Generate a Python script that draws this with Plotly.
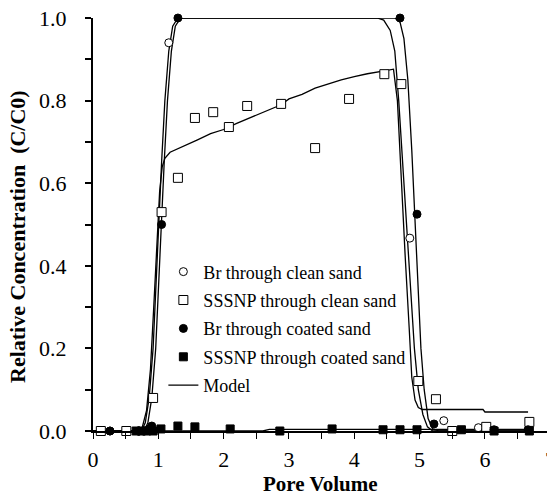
import plotly.graph_objects as go

# ---- measured breakthrough data (pore volume, C/C0) ----
br_clean_x = [0.26, 0.70, 1.16, 4.85, 5.37, 5.90]
br_clean_y = [0.0, 0.0, 0.94, 0.467, 0.025, 0.008]

sssnp_clean_x = [0.12, 0.51, 0.92, 1.05, 1.30, 1.56, 1.84, 2.08, 2.36, 2.88, 3.40,
                 3.92, 4.46, 4.72, 4.98, 5.25, 5.50, 6.02, 6.68]
sssnp_clean_y = [0.0, 0.0, 0.08, 0.53, 0.613, 0.758, 0.772, 0.736, 0.787, 0.792, 0.685,
                 0.804, 0.864, 0.84, 0.121, 0.077, 0.0, 0.01, 0.022]

br_coated_x = [0.26, 0.70, 0.78, 0.86, 0.90, 1.05, 1.30, 4.70, 4.96, 5.22, 6.14, 6.66]
br_coated_y = [0.0, 0.0, 0.0, 0.005, 0.012, 0.50, 1.0, 1.0, 0.525, 0.017, 0.003, 0.003]

sssnp_coated_x = [0.66, 0.74, 0.82, 0.92, 1.04, 1.30, 1.56, 2.10, 2.86, 3.66, 4.44,
                  4.70, 4.96, 5.64, 6.14, 6.68]
sssnp_coated_y = [0.0, 0.0, 0.0, 0.0, 0.005, 0.012, 0.01, 0.005, 0.0, 0.005, 0.003,
                  0.003, 0.003, 0.003, 0.0, 0.0]

# ---- model curves ----
m_br_clean_x = [0.0, 0.74, 0.80, 0.86, 0.92, 0.96, 1.00, 1.05, 1.10, 1.16, 1.22, 1.30,
                4.35, 4.45, 4.55, 4.62, 4.68, 4.74, 4.80, 4.86, 4.92, 4.98, 5.05, 5.12,
                5.20, 6.70]
m_br_clean_y = [0.0, 0.0, 0.02, 0.08, 0.20, 0.35, 0.50, 0.65, 0.80, 0.92, 0.98, 1.0,
                1.0, 0.995, 0.97, 0.92, 0.80, 0.65, 0.50, 0.35, 0.20, 0.10, 0.04, 0.01,
                0.0, 0.0]

m_br_coated_x = [0.0, 0.78, 0.84, 0.90, 0.96, 1.00, 1.04, 1.09, 1.14, 1.20, 1.26, 1.34,
                 4.62, 4.70, 4.76, 4.82, 4.88, 4.93, 4.98, 5.02, 5.07, 5.13, 5.20, 5.30,
                 6.70]
m_br_coated_y = [0.0, 0.0, 0.02, 0.08, 0.20, 0.35, 0.50, 0.65, 0.80, 0.92, 0.98, 1.0,
                 1.0, 0.99, 0.95, 0.85, 0.68, 0.52, 0.35, 0.20, 0.10, 0.03, 0.005, 0.0,
                 0.0]

m_sssnp_clean_x = [0.0, 0.74, 0.82, 0.88, 0.93, 0.98, 1.02, 1.06, 1.10, 1.18, 1.40, 1.60,
                   1.80, 2.00, 2.20, 2.40, 2.60, 2.88, 3.00, 3.20, 3.40, 3.60, 3.80, 4.00,
                   4.20, 4.46, 4.60, 4.66, 4.72, 4.78, 4.84, 4.88, 4.93, 4.98, 5.04, 5.97,
                   6.00, 6.66]
m_sssnp_clean_y = [0.0, 0.0, 0.05, 0.15, 0.30, 0.45, 0.58, 0.64, 0.66, 0.675, 0.69, 0.705,
                   0.72, 0.73, 0.745, 0.758, 0.772, 0.79, 0.804, 0.815, 0.83, 0.84, 0.85,
                   0.858, 0.865, 0.872, 0.876, 0.80, 0.60, 0.42, 0.25, 0.13, 0.075, 0.057,
                   0.052, 0.052, 0.046, 0.046]

m_sssnp_coated_x = [0.0, 2.60, 2.70, 6.70]
m_sssnp_coated_y = [0.0, 0.0, 0.004, 0.004]

x_ticks = [0, 1, 2, 3, 4, 5, 6]
y_ticks = [0.0, 0.2, 0.4, 0.6, 0.8, 1.0]
X_MAX = 6.95

SERIF = "Liberation Serif, Times New Roman, serif"
LINE = dict(color="black", width=1.3)

fig = go.Figure()

model_curves = [
    (m_br_clean_x, m_br_clean_y, True),
    (m_br_coated_x, m_br_coated_y, False),
    (m_sssnp_clean_x, m_sssnp_clean_y, False),
    (m_sssnp_coated_x, m_sssnp_coated_y, False),
]
for mx, my, show in model_curves:
    fig.add_trace(go.Scatter(
        x=mx, y=my, mode="lines", line=LINE, name="Model", legendgroup="model",
        showlegend=show, legendrank=5, cliponaxis=False, hoverinfo="skip"))

# open symbols are drawn as white-filled markers so the model lines stay hidden behind them
marker_series = [
    ("Br through clean sand", br_clean_x, br_clean_y, "circle", "white", 8, 1),
    ("SSSNP through clean sand", sssnp_clean_x, sssnp_clean_y, "square", "white", 9, 2),
    ("Br through coated sand", br_coated_x, br_coated_y, "circle", "black", 8, 3),
    ("SSSNP through coated sand", sssnp_coated_x, sssnp_coated_y, "square", "black", 8, 4),
]
for name, sx, sy, sym, fill, size, rank in marker_series:
    fig.add_trace(go.Scatter(
        x=sx, y=sy, mode="markers", name=name, legendrank=rank, legendgroup=name,
        cliponaxis=False,
        marker=dict(symbol=sym, size=size, color=fill,
                    line=dict(color="black", width=1))))

fig.update_layout(
    width=547, height=498,
    margin=dict(l=93, r=0, t=18, b=67),
    paper_bgcolor="white", plot_bgcolor="white",
    font=dict(family=SERIF, color="black"),
    showlegend=True,
    legend=dict(x=0.155, y=0.43, xanchor="left", yanchor="top",
                bgcolor="rgba(0,0,0,0)", font=dict(size=18, family=SERIF),
                itemwidth=30, tracegroupgap=2),
    xaxis=dict(range=[0, X_MAX], tickvals=x_ticks, ticktext=[str(v) for v in x_ticks],
               showline=True, linecolor="black", linewidth=1.6,
               ticks="outside", ticklen=6, tickwidth=1, tickcolor="black",
               minor=dict(dtick=0.5, ticks="outside", ticklen=6, tickwidth=1,
                          tickcolor="black"),
               showgrid=False, zeroline=False,
               tickfont=dict(size=22, family=SERIF), ticklabelstandoff=2),
    yaxis=dict(range=[0, 1.0], tickvals=y_ticks, ticktext=[f"{v:.1f}" for v in y_ticks],
               showline=True, linecolor="black", linewidth=2.2,
               ticks="outside", ticklen=6, tickwidth=1.5, tickcolor="black",
               minor=dict(dtick=0.1, ticks="outside", ticklen=6, tickwidth=1.5,
                          tickcolor="black"),
               showgrid=False, zeroline=False,
               tickfont=dict(size=22, family=SERIF), ticklabelstandoff=14),
    annotations=[
        dict(text="<b>Relative Concentration  (C/C0)</b>", textangle=-90,
             xref="paper", yref="paper", x=-0.165, y=0.47,
             xanchor="center", yanchor="middle", showarrow=False,
             font=dict(size=22, family=SERIF)),
        dict(text="<b>Pore Volume</b>", xref="paper", yref="paper",
             x=0.5, y=-0.128, xanchor="center", yanchor="middle", showarrow=False,
             font=dict(size=21, family=SERIF)),
        # last tick label sits just past the right edge of the plotting area
        dict(text="7", xref="paper", yref="paper", x=7 / X_MAX, y=-0.07,
             xanchor="center", yanchor="middle", showarrow=False,
             font=dict(size=22, family=SERIF)),
    ],
)

fig.write_html("out.html")
